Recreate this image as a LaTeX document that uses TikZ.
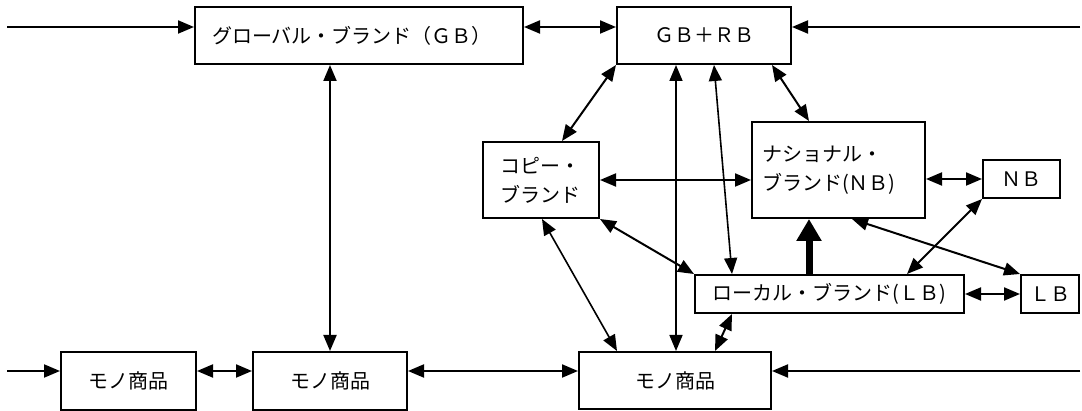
\documentclass[tikz,border=0pt]{standalone}
\usepackage{fontspec}
\setmainfont{Noto Sans CJK JP}
\usetikzlibrary{arrows.meta}
\begin{document}
\begin{tikzpicture}[x=1pt,y=-1pt,
  >={Triangle[length=16pt,width=13pt]},
  box/.style={draw, line width=2pt, rectangle, inner sep=0pt,
    font=\fontsize{20}{29}\selectfont},
  arr/.style={line width=2pt},
  thinarr/.style={line width=1.6pt},
  bigarr/.style={line width=7pt, -{Triangle[length=22pt,width=24pt]}}
]
\useasboundingbox (0,0) rectangle (1082,411);

% nodes
\node[box, minimum width=328pt, minimum height=57pt, text width=294pt,
  inner xsep=17pt, align=left] (gb) at (359,35.5) {グローバル・ブランド（ＧＢ）};
\node[box, minimum width=174pt, minimum height=57pt] (gbrb) at (704,35.5) {ＧＢ＋ＲＢ};
\node[box, minimum width=116pt, minimum height=76pt, text width=82pt,
  inner xsep=17pt, align=left] (copy) at (541,180) {コピー・\\ブランド};
\node[box, minimum width=173pt, minimum height=96pt, text width=153pt,
  inner xsep=10pt, align=left] (nat) at (838.5,170) {ナショナル・\\ブランド(ＮＢ)};
\node[box, minimum width=77pt, minimum height=38pt] (nb) at (1021.5,179) {ＮＢ};
\node[box, minimum width=269pt, minimum height=38pt] (lb) at (829.5,294) {ローカル・ブランド(ＬＢ)};
\node[box, minimum width=58pt, minimum height=38pt] (lbs) at (1050,294) {ＬＢ};
\node[box, minimum width=135pt, minimum height=58pt] (m1) at (128.5,381) {モノ商品};
\node[box, minimum width=154pt, minimum height=58pt] (m2) at (330,381) {モノ商品};
\node[box, minimum width=192pt, minimum height=57pt] (m3) at (675,380.5) {モノ商品};

\coordinate (l1) at (7,27);
\coordinate (r1) at (1080,27);
\coordinate (l2) at (7,371);
\coordinate (r2) at (1080,371);

% top row
\draw[arr,->] (l1) -- (l1 -| gb.west);
\draw[arr,<->] (gb.east |- l1) -- (gbrb.west |- l1);
\draw[arr,->] (r1) -- (r1 -| gbrb.east);
% bottom row
\draw[arr,->] (l2) -- (l2 -| m1.west);
\draw[arr,<->] (m1.east |- l2) -- (m2.west |- l2);
\draw[arr,<->] (m2.east |- l2) -- (m3.west |- l2);
\draw[arr,->] (r2) -- (r2 -| m3.east);
% verticals
\draw[arr,<->] (m2.north |- gb.south) -- (m2.north);
\draw[thinarr,<->] ([xshift=-28pt]gbrb.south) -- ([xshift=1pt]m3.north);
% GB+RB links
\draw[arr,<->] (gbrb.south west) -- ([xshift=21pt]copy.north);
\draw[thinarr,<->] ([xshift=10pt]gbrb.south) -- ([xshift=-97.5pt]lb.north);
\draw[arr,<->] ([xshift=68pt]gbrb.south) -- ([xshift=-29.5pt]nat.north);
% middle
\draw[arr,<->] (copy.east) -- (copy.east -| nat.west);
\draw[arr,<->] (nb.west -| nat.east) -- (nb.west);
\draw[arr,<->] ([xshift=13.5pt]nat.south) -- (lbs.north west);
\draw[arr,<->] (nb.south west) -- ([xshift=77.5pt]lb.north);
\draw[bigarr] ([xshift=-20.5pt]lb.north) -- ([xshift=-29.5pt]nat.south);
\draw[arr,<->] (copy.south east) -- (lb.north west);
\draw[thinarr,<->] ([xshift=1pt]copy.south) -- ([xshift=-58pt]m3.north);
\draw[arr,<->] (lb.east) -- (lbs.west);
\draw[arr,<->] ([xshift=-97.5pt]lb.south) -- ([xshift=40pt]m3.north);
\end{tikzpicture}
\end{document}
